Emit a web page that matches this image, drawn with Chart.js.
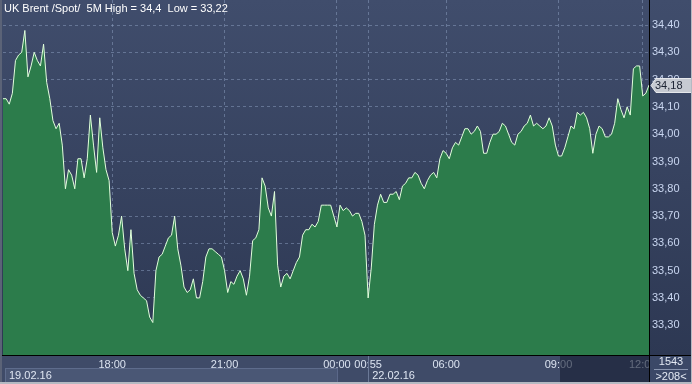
<!DOCTYPE html>
<html>
<head>
<meta charset="utf-8">
<script src="https://cdn.jsdelivr.net/npm/chart.js@4.4.1/dist/chart.umd.min.js"></script>
<style>
  html, body { margin: 0; padding: 0; background: #3a4766; }
  #wrap { width: 692px; height: 384px; position: relative; }
</style>
</head>
<body>
<div id="wrap"><canvas id="brentChart"></canvas></div>
<script>
// UK Brent spot, 5 minute closes (208 bars)
const prices = [
  34.13, 34.13, 34.11, 34.15, 34.27, 34.29, 34.30, 34.38, 34.21, 34.25,
  34.30, 34.27, 34.25, 34.33, 34.19, 34.13, 34.05, 34.02, 34.04, 33.96,
  33.80, 33.87, 33.85, 33.80, 33.91, 33.91, 33.84, 33.91, 34.07, 33.96,
  33.86, 34.06, 33.95, 33.87, 33.83, 33.64, 33.59, 33.63, 33.70, 33.58,
  33.50, 33.65, 33.49, 33.43, 33.41, 33.40, 33.39, 33.33, 33.31, 33.50,
  33.55, 33.56, 33.59, 33.62, 33.63, 33.70, 33.58, 33.52, 33.44, 33.42,
  33.43, 33.47, 33.40, 33.40, 33.46, 33.55, 33.58, 33.58, 33.57, 33.56,
  33.55, 33.50, 33.42, 33.46, 33.45, 33.48, 33.50, 33.47, 33.41, 33.48,
  33.61, 33.62, 33.65, 33.84, 33.81, 33.73, 33.70, 33.79, 33.52, 33.44,
  33.48, 33.49, 33.47, 33.50, 33.53, 33.55, 33.63, 33.65, 33.65, 33.67,
  33.66, 33.68, 33.74, 33.74, 33.74, 33.74, 33.70, 33.66, 33.74, 33.72,
  33.73, 33.72, 33.70, 33.71, 33.71, 33.68, 33.63, 33.40, 33.51, 33.67,
  33.74, 33.78, 33.75, 33.75, 33.78, 33.78, 33.79, 33.76, 33.81, 33.82,
  33.84, 33.84, 33.86, 33.85, 33.82, 33.80, 33.83, 33.85, 33.86, 33.84,
  33.91, 33.94, 33.93, 33.91, 33.95, 33.97, 33.96, 33.99, 34.02, 34.02,
  34.00, 34.01, 34.03, 34.01, 33.93, 33.93, 33.97, 34.00, 34.00, 34.01,
  34.04, 34.03, 34.00, 33.97, 33.96, 34.00, 34.01, 34.03, 34.04, 34.07,
  34.03, 34.04, 34.03, 34.02, 34.03, 34.06, 34.03, 33.96, 33.92, 33.92,
  33.95, 33.99, 34.03, 34.02, 34.08, 34.07, 34.08, 34.06, 34.02, 33.93,
  34.00, 34.03, 34.02, 33.99, 33.99, 34.00, 34.04, 34.13, 34.09, 34.06,
  34.10, 34.07, 34.24, 34.25, 34.25, 34.14, 34.15, 34.18
];

// time axis: bar index -> label
const tickIndex = [35, 71, 107, 117, 142, 178, 205];
const tickText = ['18:00', '21:00', '00:00', '00:55', '06:00', '09:00', '12:00'];
const dateText = ['19.02.16', '22.02.16'];
const yTickValues = [33.3, 33.4, 33.5, 33.6, 33.7, 33.8, 33.9, 34.0, 34.1, 34.2, 34.3, 34.4];

const titleText = 'UK Brent /Spot/  5M High = 34,4  Low = 33,22';
const totalBars = '1543';
const shownBars = '>208<';

const labels = prices.map((p, i) => {
  const k = tickIndex.indexOf(i);
  return k >= 0 ? tickText[k] : '';
});

const FONT = "'Liberation Sans Narrow', 'Arial Narrow', Arial, sans-serif";
const gridCol = 'rgba(150,170,205,0.45)';
const fmt = v => v.toFixed(2).replace('.', ',');

const backdrop = {
  id: 'backdrop',
  beforeDraw(chart) {
    const c = chart.ctx, W = chart.width, H = chart.height;
    const a = chart.chartArea;
    c.save();
    const g = c.createLinearGradient(0, 0, 0, a.bottom);
    g.addColorStop(0, '#404d6c');
    g.addColorStop(1, '#2d3853');
    c.fillStyle = g;
    c.fillRect(0, 0, W, a.bottom);
    // time band
    c.fillStyle = '#3f4b68';
    c.fillRect(0, a.bottom, W, H - a.bottom);
    // date strip of first day
    c.fillStyle = '#4a5775';
    c.fillRect(5, 368, chart.scales.x.getPixelForValue(tickIndex[2]) - 5, 15);
    c.strokeStyle = '#5e6c8c';
    c.strokeRect(5.5, 368.5, chart.scales.x.getPixelForValue(tickIndex[2]) - 5, 15);
    c.restore();
  },
  afterDraw(chart) {
    const c = chart.ctx, W = chart.width, H = chart.height;
    const a = chart.chartArea;
    const x = chart.scales.x, y = chart.scales.y;
    c.save();
    // dates
    c.font = '11px ' + FONT;
    c.fillStyle = '#dfe6f2';
    c.textBaseline = 'middle';
    c.textAlign = 'left';
    c.fillText(dateText[0], 9, 376);
    c.fillText(dateText[1], x.getPixelForValue(tickIndex[3]) + 4, 376);
    // session separator
    c.fillStyle = '#6b7997';
    c.fillRect(Math.round(x.getPixelForValue(tickIndex[3])), a.bottom, 1, H - a.bottom);
    // scroll marker
    c.fillStyle = 'rgba(22,30,52,0.62)';
    c.fillRect(560, a.bottom + 1, a.right - 560, H - a.bottom - 2);
    // counter box
    c.fillStyle = '#3b4867';
    c.fillRect(a.right, a.bottom, W - a.right, H - a.bottom);
    c.fillStyle = '#e4eaf4';
    c.textAlign = 'center';
    c.fillText(totalBars, 671, 362);
    c.fillText(shownBars, 671, 377);
    c.fillStyle = '#8a96b0';
    c.fillRect(654, 369, 34, 1);
    // axis lines
    c.fillStyle = '#000';
    c.fillRect(0, a.bottom, W, 1);
    c.fillRect(a.right, 0, 1, H);
    // last price tag
    const last = prices[prices.length - 1];
    const py = Math.round(y.getPixelForValue(last));
    c.beginPath();
    c.moveTo(a.right + 2, py + 0.5);
    c.lineTo(a.right + 7, py - 6.5);
    c.lineTo(W, py - 6.5);
    c.lineTo(W, py + 7.5);
    c.lineTo(a.right + 7, py + 7.5);
    c.closePath();
    c.fillStyle = '#c6cad2';
    c.fill();
    c.strokeStyle = '#e6e8ec';
    c.stroke();
    c.fillStyle = '#1b2232';
    c.textAlign = 'left';
    c.fillText(fmt(last), a.right + 6, py + 1);
    // title
    c.fillStyle = '#ffffff';
    c.fillText(titleText, 4, 9);
    // frame
    c.fillStyle = '#5b6377';
    c.fillRect(0, 0, 2, H);
    c.fillStyle = '#b4b9c2';
    c.fillRect(0, H - 2, W, 2);
    c.fillRect(W - 1, 0, 1, H);
    c.restore();
  }
};

new Chart(document.getElementById('brentChart'), {
  type: 'line',
  data: {
    labels: labels,
    datasets: [{
      data: prices,
      borderColor: '#e2ffdc',
      borderWidth: 1,
      backgroundColor: '#2c7c4b',
      fill: 'start',
      pointRadius: 0,
      tension: 0
    }]
  },
  options: {
    responsive: true,
    maintainAspectRatio: false,
    animation: false,
    devicePixelRatio: 1,
    layout: { padding: { left: 3, top: 0, right: 0, bottom: 0 } },
    plugins: { legend: { display: false }, tooltip: { enabled: false } },
    scales: {
      x: {
        type: 'category',
        offset: false,
        z: 1,
        grid: {
          drawTicks: false,
          color: ctx => tickIndex.includes(ctx.index) ? gridCol : 'rgba(0,0,0,0)'
        },
        border: { display: false, dash: [3, 3] },
        ticks: {
          autoSkip: false,
          maxRotation: 0,
          minRotation: 0,
          padding: 3,
          color: '#dbe3f0',
          font: { family: FONT, size: 11 }
        },
        afterFit(s) { s.height = 29; s.paddingLeft = 0; s.paddingRight = 0; }
      },
      y: {
        position: 'right',
        min: 33.191,
        max: 34.4916,
        z: 1,
        grid: { drawTicks: false, color: gridCol },
        border: { display: false, dash: [3, 3] },
        ticks: {
          padding: 3,
          color: '#c9d6f0',
          font: { family: FONT, size: 11 },
          callback: v => fmt(v)
        },
        afterBuildTicks(s) { s.ticks = yTickValues.map(v => ({ value: v })); },
        afterFit(s) { s.width = 43; s.paddingTop = 0; s.paddingBottom = 0; }
      }
    }
  },
  plugins: [backdrop]
});
</script>
</body>
</html>
